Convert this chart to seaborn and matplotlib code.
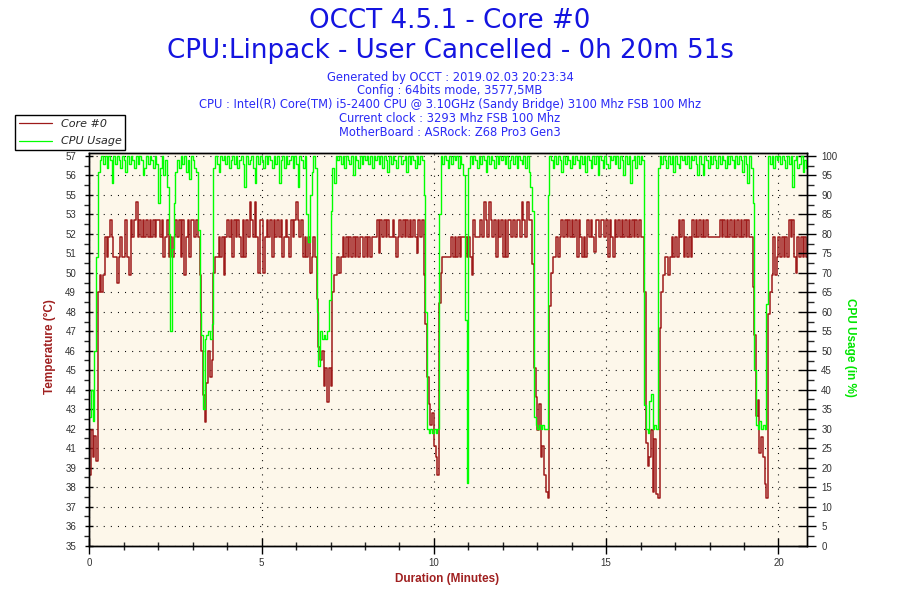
import numpy as np
import pandas as pd
import seaborn as sns
import matplotlib
matplotlib.use("Agg")
import matplotlib.pyplot as plt
from matplotlib.ticker import FixedLocator, MultipleLocator, NullFormatter

# one sample every 0.05 min (3 s)
SAMPLE_MIN = 0.05

temp_c = [
    39.0, 41.5, 40.0, 41.2, 39.8, 49.3, 50.3, 49.3, 50.3, 52.4, 51.3, 52.4, 53.4, 52.4, 51.3, 51.3, 49.8, 51.3, 52.4, 51.3,
    51.3, 53.4, 51.3, 50.3, 53.4, 52.4, 53.4, 54.4, 52.4, 53.4, 52.4, 53.4, 52.4, 53.4, 52.4, 53.4, 52.4, 53.4, 52.4, 53.4,
    53.4, 52.4, 53.4, 51.3, 52.4, 53.4, 51.3, 52.4, 51.3, 52.4, 53.4, 52.4, 53.4, 51.3, 53.4, 50.3, 52.4, 53.4, 51.3, 53.4,
    53.4, 52.4, 53.4, 52.4, 50.3, 46.0, 43.5, 42.0, 44.2, 46.0, 44.5, 45.5, 50.4, 51.3, 51.3, 52.4, 51.3, 52.4, 50.3, 52.4,
    53.4, 52.4, 53.4, 51.3, 53.4, 52.4, 53.4, 52.4, 51.3, 53.4, 51.3, 53.4, 52.4, 54.4, 53.4, 52.4, 54.4, 52.4, 50.4, 53.4,
    53.4, 50.4, 52.4, 53.4, 52.4, 53.4, 51.3, 53.4, 52.4, 53.4, 52.4, 53.4, 51.3, 52.4, 53.4, 52.4, 51.3, 53.4, 52.4, 53.4,
    54.4, 53.4, 52.4, 53.4, 51.3, 52.4, 51.3, 52.4, 50.4, 51.3, 52.4, 51.3, 48.9, 46.2, 45.5, 46.0, 44.0, 45.0, 43.1, 45.0,
    44.0, 49.3, 50.3, 50.3, 51.3, 50.4, 51.3, 52.4, 51.3, 52.4, 51.3, 52.4, 51.3, 52.4, 51.3, 52.4, 51.3, 52.4, 52.4, 51.3,
    52.4, 51.3, 52.4, 51.3, 52.4, 52.4, 52.4, 53.4, 51.5, 53.4, 52.4, 53.4, 52.4, 53.4, 52.4, 52.4, 53.4, 52.4, 51.3, 52.4,
    53.4, 52.4, 53.4, 52.4, 53.4, 52.4, 53.4, 52.4, 53.4, 52.4, 51.5, 53.4, 52.4, 53.4, 50.3, 47.5, 44.5, 43.0, 41.8, 42.5,
    40.6, 40.0, 39.0, 48.7, 50.4, 51.3, 51.3, 51.3, 51.3, 51.3, 52.4, 51.3, 52.4, 51.3, 52.4, 51.3, 52.4, 52.4, 52.4, 51.3,
    52.4, 51.3, 50.3, 53.4, 52.4, 52.4, 52.4, 53.4, 52.4, 54.4, 53.4, 52.4, 54.4, 53.4, 52.4, 53.4, 51.3, 53.4, 52.4, 53.4,
    51.3, 53.4, 51.3, 53.4, 53.4, 52.4, 53.4, 52.4, 53.4, 53.4, 52.4, 54.4, 53.4, 52.4, 54.4, 53.4, 53.4, 50.9, 45.0, 43.4,
    41.5, 43.0, 40.0, 40.6, 39.0, 38.0, 37.7, 48.5, 50.4, 51.3, 51.3, 52.4, 51.3, 52.4, 53.4, 52.4, 53.4, 52.4, 53.4, 52.4,
    53.4, 52.4, 53.4, 51.3, 53.4, 52.4, 51.3, 52.4, 51.3, 53.4, 52.4, 53.4, 52.4, 51.6, 53.4, 53.4, 52.4, 53.4, 53.4, 52.4,
    53.4, 51.3, 53.4, 52.4, 51.3, 53.4, 52.4, 53.4, 52.4, 53.4, 52.4, 53.4, 52.4, 53.4, 52.4, 53.4, 52.4, 53.4, 52.4, 53.4,
    52.4, 52.4, 49.3, 40.8, 39.5, 40.0, 41.5, 38.0, 41.0, 37.9, 37.7, 47.3, 49.3, 50.3, 51.3, 51.3, 50.3, 51.3, 52.4, 51.3,
    52.4, 51.3, 53.4, 52.4, 53.4, 51.3, 52.4, 51.3, 52.4, 51.3, 53.4, 52.4, 53.4, 52.4, 53.4, 52.4, 53.4, 52.4, 53.4, 52.4,
    52.4, 52.4, 52.4, 52.4, 52.4, 52.4, 53.4, 52.4, 53.4, 52.4, 53.4, 52.4, 53.4, 52.4, 53.4, 52.4, 53.4, 52.4, 53.4, 52.4,
    53.4, 52.4, 53.4, 52.4, 52.4, 49.6, 46.9, 42.3, 43.2, 40.2, 41.1, 40.0, 38.5, 37.7, 48.1, 49.3, 50.3, 52.4, 50.3, 51.3,
    52.4, 51.3, 52.4, 51.3, 52.4, 51.3, 53.4, 52.4, 53.4, 51.3, 50.4, 52.4, 51.3, 52.4, 51.3, 52.4, 51.3, 52.4,
]

cpu_pct = [
    33, 40, 32, 50, 74, 96, 99, 100, 98, 100, 97, 100, 99, 93, 100, 98, 100, 99, 97, 100,
    99, 96, 100, 98, 100, 99, 97, 100, 98, 100, 99, 95, 97, 100, 98, 100, 99, 97, 100, 98,
    88, 97, 100, 95, 99, 92, 80, 55, 76, 88, 96, 99, 97, 100, 98, 100, 96, 99, 94, 100,
    99, 97, 96, 81, 60, 54, 35, 53, 54, 55, 53, 57, 97, 100, 98, 96, 100, 99, 100, 98,
    100, 97, 99, 100, 98, 100, 97, 99, 100, 98, 92, 100, 98, 99, 100, 97, 93, 100, 98, 100,
    99, 97, 100, 98, 100, 99, 97, 100, 98, 100, 93, 99, 100, 97, 100, 98, 99, 100, 97, 100,
    98, 92, 100, 99, 97, 100, 85, 78, 90, 96, 100, 97, 60, 46, 55, 53, 54, 53, 55, 63,
    86, 97, 93, 100, 99, 100, 98, 100, 97, 100, 99, 98, 100, 95, 100, 99, 97, 100, 98, 100,
    99, 100, 98, 100, 97, 100, 99, 100, 98, 100, 97, 100, 99, 96, 100, 98, 100, 99, 97, 100,
    100, 98, 99, 100, 96, 100, 98, 100, 99, 97, 100, 98, 100, 99, 90, 60, 30, 29, 30, 29,
    30, 29, 30, 85, 100, 98, 100, 99, 97, 100, 98, 100, 99, 100, 97, 100, 98, 95, 58, 16,
    97, 100, 98, 100, 99, 97, 100, 98, 100, 99, 96, 100, 98, 100, 99, 97, 100, 98, 100, 99,
    100, 98, 100, 97, 99, 100, 98, 100, 97, 100, 99, 98, 100, 97, 100, 96, 92, 86, 33, 31,
    30, 31, 30, 31, 30, 30, 90, 100, 99, 97, 100, 98, 100, 99, 96, 100, 98, 100, 99, 97,
    100, 98, 100, 99, 97, 100, 98, 100, 96, 100, 99, 97, 100, 98, 100, 95, 100, 99, 97, 100,
    98, 97, 100, 99, 100, 98, 100, 97, 100, 99, 95, 100, 98, 100, 93, 99, 100, 97, 100, 98,
    100, 99, 36, 30, 29, 37, 39, 30, 31, 30, 97, 100, 98, 100, 99, 97, 100, 98, 100, 96,
    100, 98, 97, 100, 99, 100, 98, 100, 97, 100, 99, 100, 98, 95, 100, 98, 95, 100, 99, 97,
    100, 98, 100, 99, 97, 100, 98, 100, 99, 97, 100, 98, 100, 99, 97, 100, 98, 100, 99, 96,
    100, 98, 93, 100, 97, 88, 45, 31, 30, 32, 30, 31, 30, 62, 100, 98, 100, 97, 100, 99,
    100, 98, 100, 99, 97, 100, 98, 100, 92, 99, 100, 97, 98, 100, 96, 99, 97, 100,
]

# OCCT prints rounded temperatures at the 5% grid positions
temp_tick_labels = ['35', '36', '37', '38', '39', '41', '42', '43', '44', '45', '46',
                    '47', '48', '49', '50', '51', '52', '53', '55', '56', '57']
cpu_ticks = list(range(0, 101, 5))

title_lines = ['OCCT 4.5.1 - Core #0',
               'CPU:Linpack - User Cancelled - 0h 20m 51s']
info_lines = ['Generated by OCCT : 2019.02.03 20:23:34',
              'Config : 64bits mode, 3577,5MB',
              'CPU : Intel(R) Core(TM) i5-2400 CPU @ 3.10GHz (Sandy Bridge) 3100 Mhz FSB 100 Mhz',
              'Current clock : 3293 Mhz FSB 100 Mhz',
              'MotherBoard : ASRock: Z68 Pro3 Gen3']

RED = '#9e1a1a'
GREEN = '#00ff00'
BLUE = '#1414e0'

df = pd.DataFrame({'minutes': np.round(np.arange(len(temp_c)) * SAMPLE_MIN, 2),
                   'temp': temp_c,
                   'cpu': cpu_pct})

sns.set_style('ticks')
plt.rcParams['font.family'] = ['DejaVu Sans']

fig = plt.figure(figsize=(9, 6), dpi=100, facecolor='white')
ax = fig.add_axes([89.3 / 900, 1 - 545.5 / 600, (806.7 - 89.3) / 900, (545.5 - 153.3) / 600])
ax.set_facecolor('#fdf7ea')

temp_min, temp_max = 35, 57
ax.set_xlim(0, 20.82)
ax.set_ylim(temp_min, temp_max + 0.15)

sns.lineplot(data=df, x='minutes', y='temp', ax=ax, color=RED, lw=1.1,
             drawstyle='steps-post', estimator=None, label='Core #0', legend=False)

ax2 = ax.twinx()
ax2.set_ylim(0, 100.7)
sns.lineplot(data=df, x='minutes', y='cpu', ax=ax2, color=GREEN, lw=1.0,
             drawstyle='steps-post', estimator=None, label='CPU Usage', legend=False)

# temperature ticks sit on the same 5% grid as the cpu axis
step = (temp_max - temp_min) / 20
temp_ticks = [temp_min + k * step for k in range(21)]
ax.yaxis.set_major_locator(FixedLocator(temp_ticks))
ax.set_yticklabels(temp_tick_labels)
ax.yaxis.set_minor_locator(FixedLocator([t + step / 2 for t in temp_ticks[:-1]]))
ax.xaxis.set_major_locator(MultipleLocator(5))
ax.xaxis.set_minor_locator(MultipleLocator(1))
ax2.yaxis.set_major_locator(FixedLocator(cpu_ticks))
ax2.yaxis.set_minor_locator(MultipleLocator(2.5))
ax2.yaxis.set_minor_formatter(NullFormatter())

dots = (0, (0.9, 5.5))
ax.yaxis.grid(True, which='major', color='black', lw=0.8, linestyle=dots)
ax.xaxis.grid(True, which='major', color='black', lw=0.8, linestyle=dots)
ax.set_axisbelow(True)

lab = dict(labelsize=7, labelcolor='#333333', color='black', width=1)
ax.tick_params(axis='y', which='major', direction='inout', length=6, pad=6.5, **lab)
ax.tick_params(axis='y', which='minor', direction='out', length=3.5, width=1)
ax.tick_params(axis='x', which='major', direction='inout', length=12, pad=3, **lab)
ax.tick_params(axis='x', which='minor', direction='inout', length=6, width=1)
ax2.tick_params(axis='y', which='major', direction='inout', length=13, pad=4, **lab)
ax2.tick_params(axis='y', which='minor', direction='out', length=5, width=1)
for a in (ax, ax2):
    for s in a.spines.values():
        s.set_color('black')
        s.set_linewidth(1.0)
    a.set_xlabel('')
    a.set_ylabel('')

for lbl in ax.get_xticklabels() + ax.get_yticklabels() + ax2.get_yticklabels():
    lbl.set_fontfamily(['Liberation Sans', 'DejaVu Sans'])

# axis titles
fig.text(50 / 900, 1 - 347 / 600, 'Temperature (°C)', rotation=90, ha='center', va='center',
         color='#a02020', fontsize=8.5, fontweight='bold', family=['Liberation Sans', 'DejaVu Sans'])
fig.text(850 / 900, 1 - 347 / 600, 'CPU Usage (in %)', rotation=270, ha='center', va='center',
         color='#00e600', fontsize=8.5, fontweight='bold', family=['Liberation Sans', 'DejaVu Sans'])
fig.text(447 / 900, 1 - 579 / 600, 'Duration (Minutes)', ha='center', va='center',
         color='#a02020', fontsize=8.5, fontweight='bold', family=['Liberation Sans', 'DejaVu Sans'])

# header
for y, line in zip([20.5, 50.5], title_lines):
    fig.text(0.5, 1 - y / 600, line, ha='center', va='center', color=BLUE, fontsize=18.8)
for i, line in enumerate(info_lines):
    fig.text(0.5, 1 - (77 + 13.8 * i) / 600, line, ha='center', va='center',
             color='#2a2af5', fontsize=8.3)

handles = ax.get_lines()[:1] + ax2.get_lines()[:1]
leg = fig.legend(handles, ['Core #0', 'CPU Usage'], loc='upper left',
                 bbox_to_anchor=(15.3 / 900, 1 - 115.3 / 600), borderaxespad=0,
                 fancybox=False, framealpha=1, edgecolor='black', borderpad=0.3,
                 handlelength=3.0, handletextpad=0.8, labelspacing=0.7,
                 prop={'style': 'italic', 'size': 8})
leg.get_frame().set_linewidth(1.0)
for h in leg.legend_handles:
    h.set_linewidth(0.9)

fig.savefig('out.png', dpi=100, facecolor='white')
